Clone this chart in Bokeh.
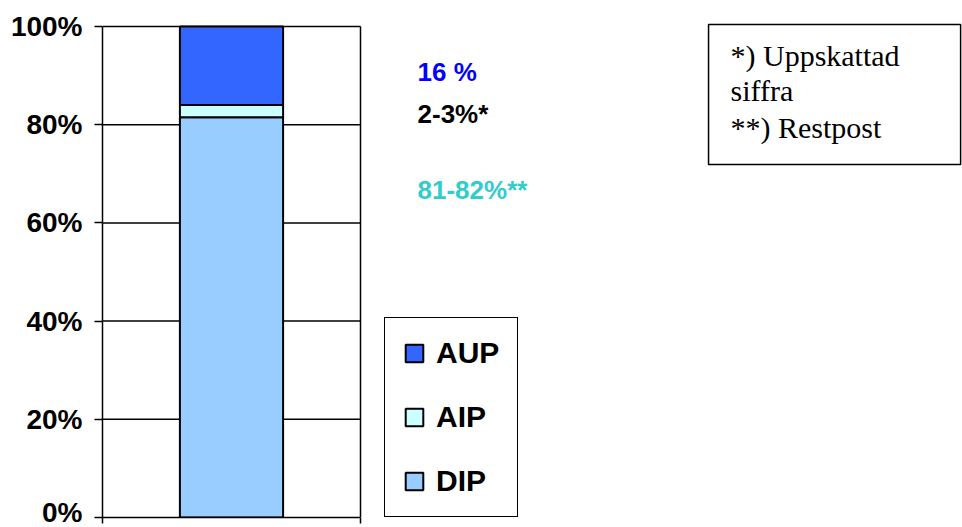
from bokeh.plotting import figure
from bokeh.models import (FixedTicker, Legend, LegendItem, Label, BoxAnnotation,
                          Range1d)
from bokeh.embed import file_html
from bokeh.resources import INLINE

# Composition of the total, stacked bottom to top
categories = ["DIP", "AIP", "AUP"]
shares = [81.5, 2.5, 16.0]

# Value notes printed beside the column
share_notes = ["81-82%**", "2-3%*", "16 %"]
note_y = [66.7, 82.1, 90.8]

# Vertical axis
tick_values = [0, 20, 40, 60, 80, 100]
tick_labels = ["0%", "20%", "40%", "60%", "80%", "100%"]

footnotes = ["*) Uppskattad", "siffra", "**) Restpost"]

fill_colors = {"DIP": "#99CCFF", "AIP": "#CCFFFF", "AUP": "#3366FF"}
note_colors = {"DIP": "#33CCCC", "AIP": "#000000", "AUP": "#0000FF"}

SANS = "Liberation Sans"
SERIF = "Liberation Serif"

# The column sits in the plot area x = 0.5 .. 1.5; the remaining width of the
# frame on the right holds the notes, legend and footnote box.
X_END = 0.5 + 860 / 258
Y_END = 100 + 4 / 4.91

p = figure(width=962, height=527, output_backend="svg", toolbar_location=None,
           min_border_left=102, min_border_right=0, min_border_top=22,
           min_border_bottom=10, x_range=Range1d(0.5, X_END),
           y_range=Range1d(0, Y_END))
p.background_fill_color = "white"
p.border_fill_color = "white"
p.outline_line_color = None
p.xgrid.visible = False
p.ygrid.visible = False

# Plot-area gridlines and border, limited to the column's plot area
inner_ticks = [t for t in tick_values if t > 0]
p.segment(x0=[0.5] * len(inner_ticks), x1=[1.5] * len(inner_ticks),
          y0=inner_ticks, y1=inner_ticks, line_color="black", line_width=1.5)
p.segment(x0=[1.5], x1=[1.5], y0=[tick_values[0]], y1=[tick_values[-1]],
          line_color="black", line_width=1.5)

# Stacked column
bottoms, tops = [], []
acc = 0.0
for v in shares:
    bottoms.append(acc)
    acc += v
    tops.append(acc)

renderers = {}
for cat, b, t in zip(categories, bottoms, tops):
    renderers[cat] = p.vbar(x=[1], width=0.4, bottom=[b], top=[t],
                            fill_color=fill_colors[cat], line_color="black",
                            line_width=2)

# Axes
ya = p.yaxis[0]
ya.bounds = (tick_values[0], tick_values[-1])
ya.ticker = FixedTicker(ticks=tick_values)
ya.major_label_overrides = {v: s for v, s in zip(tick_values, tick_labels)}
ya.major_label_text_font = SANS
ya.major_label_text_font_style = "bold"
ya.major_label_text_font_size = "28px"
ya.major_label_text_color = "black"
ya.major_label_standoff = 12
ya.major_tick_out = 8
ya.major_tick_in = 0
ya.minor_tick_line_color = None
ya.axis_line_color = "black"
ya.axis_line_width = 1.5
ya.major_tick_line_width = 1.5

xa = p.xaxis[0]
xa.bounds = (0.5, 1.5)
xa.ticker = FixedTicker(ticks=[0.5, 1.5])
xa.major_label_text_alpha = 0
xa.major_label_text_font_size = "1px"
xa.major_label_standoff = 0
xa.major_tick_out = 6
xa.major_tick_in = 0
xa.minor_tick_line_color = None
xa.axis_line_color = "black"
xa.axis_line_width = 1.5
xa.major_tick_line_width = 1.5

# Value notes
for cat, txt, y in zip(categories, share_notes, note_y):
    p.add_layout(Label(x=1.721, y=y, text=txt, text_color=note_colors[cat],
                       text_font=SANS, text_font_style="bold",
                       text_font_size="26px", text_baseline="middle",
                       text_align="left"))

# Legend, top entry first
items = [LegendItem(label=cat, renderers=[renderers[cat]])
         for cat in reversed(categories)]
legend = Legend(items=items, location=(282, 0), orientation="vertical",
                glyph_width=22, glyph_height=22, label_standoff=11,
                label_text_font=SANS, label_text_font_style="bold",
                label_text_font_size="30px", label_text_color="black",
                spacing=30, padding=18, margin=0,
                border_line_color="black", border_line_width=1.5,
                border_line_alpha=1,
                background_fill_color="white", background_fill_alpha=1)
p.add_layout(legend)

# Footnote box
p.add_layout(BoxAnnotation(left=2.849, right=3.826, top=100.41, bottom=71.9,
                           fill_color="white", fill_alpha=1,
                           line_color="black", line_width=1.5, line_alpha=1))
for txt, yb in zip(footnotes, [94.1, 87.0, 79.5]):
    p.add_layout(Label(x=2.934, y=yb, text=txt, text_color="black",
                       text_font=SERIF, text_font_size="30px",
                       text_baseline="alphabetic", text_align="left"))

open("out.html", "w").write(file_html(p, INLINE))
